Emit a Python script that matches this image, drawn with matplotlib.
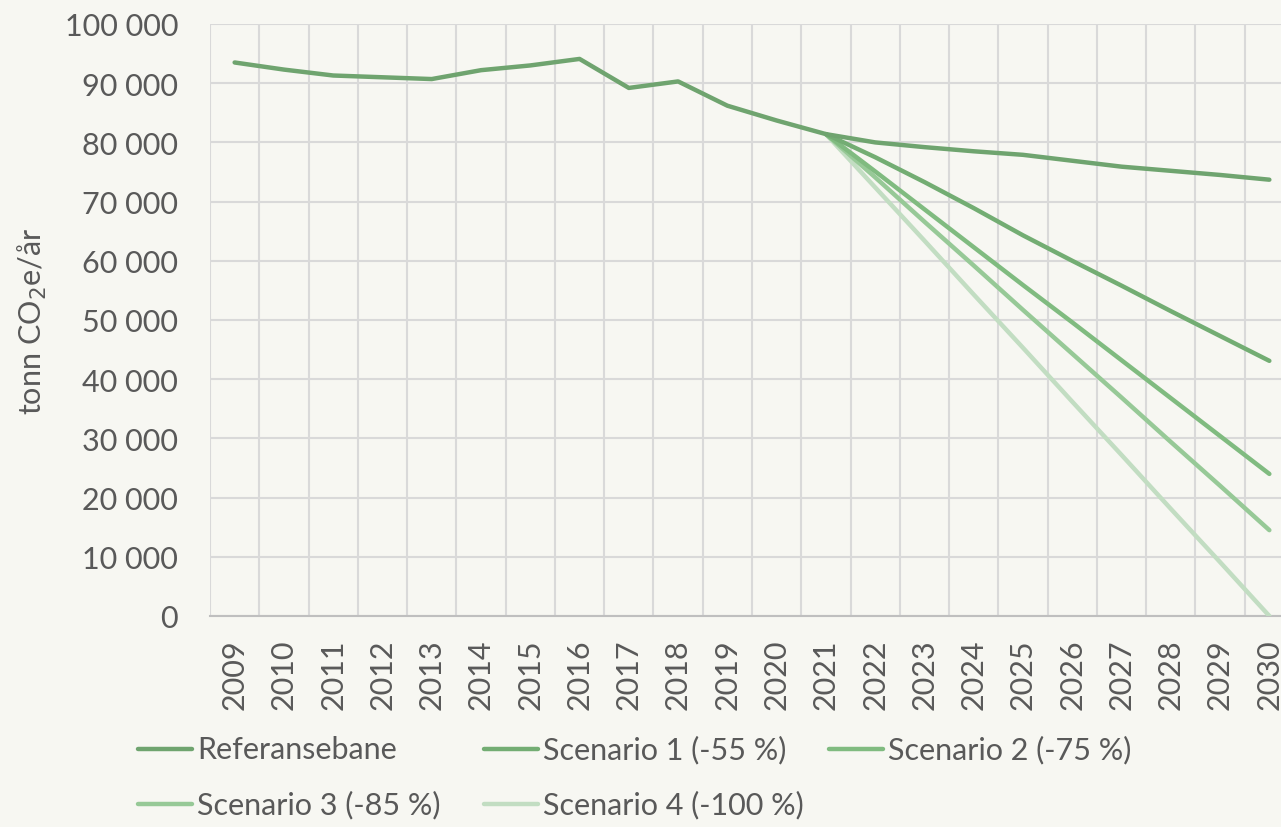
import matplotlib.pyplot as plt
from matplotlib.lines import Line2D
from matplotlib.ticker import FuncFormatter, MultipleLocator, FixedLocator

plt.rcParams["font.family"] = ["Lato", "DejaVu Sans"]

years = [str(y) for y in range(2009, 2031)]

referanse = [93500, 92300, 91300, 91000, 90700, 92200, 93000, 94100, 89200, 90300,
             86200, 83700, 81400, 80000, 79200, 78500, 77900, 76900, 75900, 75200,
             74500, 73700]
scen1 = [81400, 77500, 73300, 68900, 64300, 60000, 55800, 51500, 47300, 43100]
scen2 = [81400, 75100, 68700, 62300, 55900, 49600, 43200, 36800, 30400, 24000]
scen3 = [81400, 74100, 66600, 59200, 51700, 44300, 36900, 29400, 22000, 14500]
scen4 = [81400, 72400, 63400, 54300, 45300, 36200, 27200, 18100, 9100, 0]

labels = ["Referansebane", "Scenario 1 (-55 %)", "Scenario 2 (-75 %)",
          "Scenario 3 (-85 %)", "Scenario 4 (-100 %)"]
colors = ["#6FA46F", "#73AD73", "#80BB80", "#97C997", "#C2DDC2"]

BG = "#F7F7F2"
TXT = "#595959"
FS = 22

fig = plt.figure(figsize=(12.81, 8.28), dpi=100, facecolor=BG)
W, H = 1281, 828
ax = fig.add_axes([210 / W, 1 - 617 / H, (1294 - 210) / W, (617 - 25) / H])
ax.set_facecolor(BG)

x_all = list(range(len(years)))
x_fut = x_all[years.index("2021"):]
series = [referanse, scen1, scen2, scen3, scen4]
for i, (vals, c) in enumerate(zip(series, colors)):
    xs = x_all if i == 0 else x_fut
    ax.plot(xs, vals, color=c, lw=3.2, solid_capstyle="round",
            solid_joinstyle="round", zorder=3 + (4 - i) * 0.1)

ax.set_xlim(-0.5, len(years) - 0.5)
ax.set_ylim(0, 100000)
ax.yaxis.set_major_locator(MultipleLocator(10000))
ax.yaxis.set_major_formatter(FuncFormatter(lambda v, p: f"{v:,.0f}".replace(",", " ")))
ax.set_xticks(x_all)
ax.set_xticklabels(years, rotation=90)
ax.xaxis.set_minor_locator(FixedLocator([k - 0.5 for k in range(len(years) + 1)]))

ax.grid(axis="y", which="major", color="#D9D9D9", lw=1.5, zorder=0)
ax.grid(axis="x", which="minor", color="#D9D9D9", lw=1.5, zorder=0)
ax.tick_params(axis="both", which="both", length=0, labelsize=FS, colors=TXT)
ax.tick_params(axis="x", pad=16)
ax.tick_params(axis="y", pad=23)
for s in ["top", "right", "left"]:
    ax.spines[s].set_visible(False)
ax.spines["bottom"].set_color("#BFBFBF")
ax.spines["bottom"].set_linewidth(1.5)

fig.text(32 / W, 1 - 321 / H, "tonn CO$_2$e/år", rotation=90, ha="center",
         va="center", fontsize=FS, color=TXT)

# legend laid out like the Excel one (row-major, fixed columns)
leg_pos = [(138, 750), (484, 750), (829, 750), (138, 805), (484, 805)]
for (px, py), lab, c in zip(leg_pos, labels, colors):
    fig.add_artist(Line2D([px / W, (px + 54) / W], [1 - py / H, 1 - py / H],
                          color=c, lw=3.2, solid_capstyle="round"))
    fig.text((px + 59) / W, 1 - py / H, lab, ha="left", va="center",
             fontsize=FS, color=TXT)

fig.savefig("out.png", dpi=100, facecolor=BG)
